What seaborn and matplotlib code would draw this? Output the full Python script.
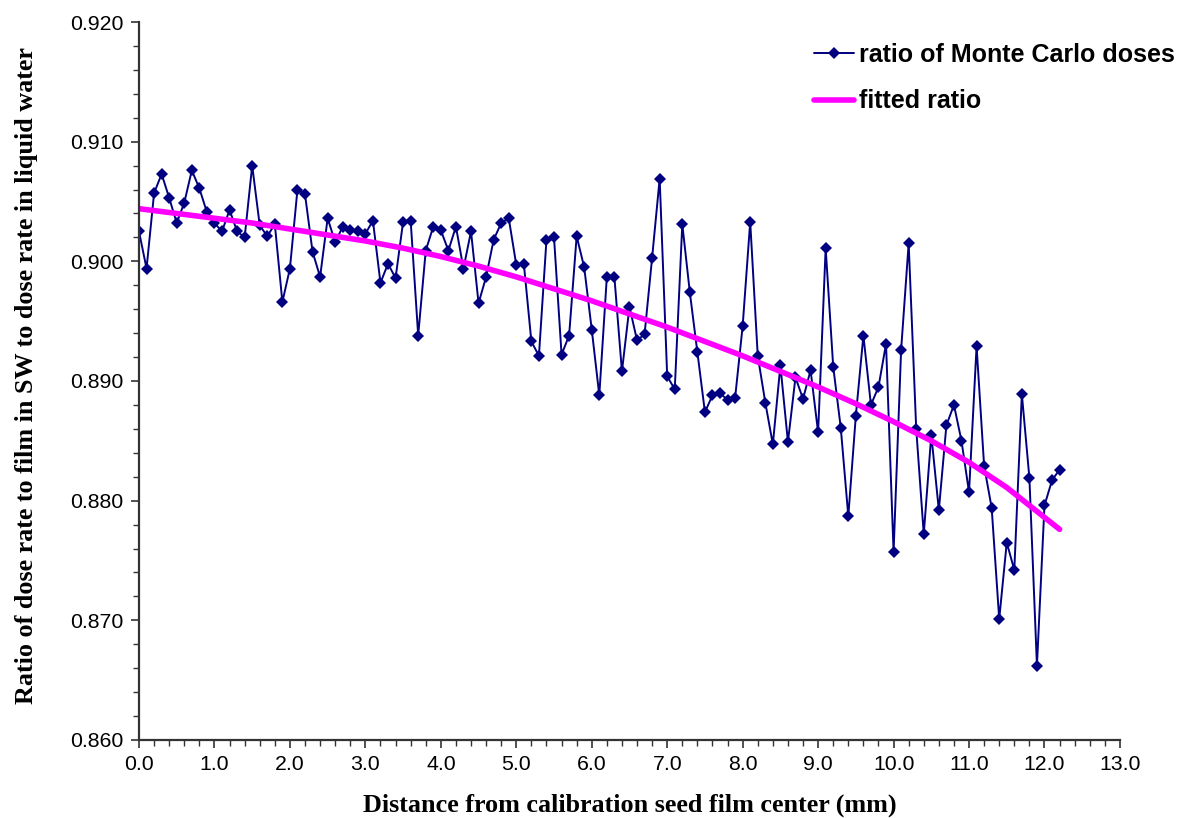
import matplotlib
matplotlib.use("Agg")
import matplotlib.pyplot as plt
from matplotlib.ticker import MultipleLocator, FormatStrFormatter
import seaborn as sns
import pandas as pd

# Distance from the calibration seed film centre (mm)
distance_mm = [
    0.0, 0.1, 0.2, 0.3, 0.4, 0.5, 0.6, 0.7, 0.8, 0.9,
    1.0, 1.1, 1.2, 1.3, 1.4, 1.5, 1.6, 1.7, 1.8, 1.9,
    2.0, 2.1, 2.2, 2.3, 2.4, 2.5, 2.6, 2.7, 2.8, 2.9,
    3.0, 3.1, 3.2, 3.3, 3.4, 3.5, 3.6, 3.7, 3.8, 3.9,
    4.0, 4.1, 4.2, 4.3, 4.4, 4.5, 4.6, 4.7, 4.8, 4.9,
    5.0, 5.1, 5.2, 5.3, 5.4, 5.5, 5.6, 5.7, 5.8, 5.9,
    6.0, 6.1, 6.2, 6.3, 6.4, 6.5, 6.6, 6.7, 6.8, 6.9,
    7.0, 7.1, 7.2, 7.3, 7.4, 7.5, 7.6, 7.7, 7.8, 7.9,
    8.0, 8.1, 8.2, 8.3, 8.4, 8.5, 8.6, 8.7, 8.8, 8.9,
    9.0, 9.1, 9.2, 9.3, 9.4, 9.5, 9.6, 9.7, 9.8, 9.9,
    10.0, 10.1, 10.2, 10.3, 10.4, 10.5, 10.6, 10.7, 10.8, 10.9,
    11.0, 11.1, 11.2, 11.3, 11.4, 11.5, 11.6, 11.7, 11.8, 11.9,
    12.0, 12.1, 12.2,
]

# Ratio of Monte Carlo dose rates (film in SW / liquid water)
mc_ratio = [
    0.9025, 0.8994, 0.9057, 0.9073, 0.9053, 0.9032, 0.9049, 0.9076, 0.9061, 0.9041,
    0.9032, 0.9025, 0.9043, 0.9025, 0.9020, 0.9080, 0.9030, 0.9021, 0.9031, 0.8966,
    0.8994, 0.9060, 0.9056, 0.9008, 0.8987, 0.9036, 0.9016, 0.9029, 0.9026, 0.9025,
    0.9023, 0.9034, 0.8982, 0.8998, 0.8986, 0.9033, 0.9034, 0.8938, 0.9009, 0.9029,
    0.9026, 0.9009, 0.9029, 0.8994, 0.9025, 0.8965, 0.8987, 0.9018, 0.9032, 0.9036,
    0.8997, 0.8998, 0.8933, 0.8921, 0.9018, 0.9020, 0.8922, 0.8938, 0.9021, 0.8995,
    0.8943, 0.8888, 0.8987, 0.8987, 0.8908, 0.8962, 0.8934, 0.8939, 0.9003, 0.9069,
    0.8904, 0.8893, 0.9031, 0.8974, 0.8924, 0.8874, 0.8888, 0.8890, 0.8884, 0.8886,
    0.8946, 0.9033, 0.8921, 0.8882, 0.8847, 0.8913, 0.8849, 0.8903, 0.8885, 0.8909,
    0.8857, 0.9011, 0.8912, 0.8861, 0.8787, 0.8871, 0.8938, 0.8880, 0.8895, 0.8931,
    0.8757, 0.8926, 0.9015, 0.8860, 0.8772, 0.8855, 0.8792, 0.8863, 0.8880, 0.8850,
    0.8807, 0.8929, 0.8829, 0.8794, 0.8701, 0.8765, 0.8742, 0.8889, 0.8819, 0.8662,
    0.8796, 0.8817, 0.8826,
]

# Fitted ratio curve
fit_distance_mm = [
    0.0, 0.5, 1.0, 1.5, 2.0, 2.5, 3.0, 3.5, 4.0, 4.5, 5.0, 5.5, 6.0,
    6.5, 7.0, 7.5, 8.0, 8.5, 9.0, 9.5, 10.0, 10.5, 11.0, 11.5, 12.0, 12.2,
]
fit_ratio = [
    0.9044, 0.9040, 0.9036, 0.9032, 0.9027, 0.9022, 0.9017, 0.9011, 0.9004,
    0.8996, 0.8987, 0.8977, 0.8967, 0.8956, 0.8945, 0.8933, 0.8921, 0.8908,
    0.8895, 0.8881, 0.8866, 0.8850, 0.8832, 0.8811, 0.8786, 0.8776,
]

mc_label = "ratio of Monte Carlo doses"
fit_label = "fitted ratio"
x_title = "Distance from calibration seed film center (mm)"
y_title = "Ratio of dose rate to film in SW to dose rate in liquid water"

sns.set_style("ticks")
plt.rcParams["font.family"] = ["Liberation Sans", "DejaVu Sans"]
plt.rcParams["text.color"] = "black"
plt.rcParams["axes.labelcolor"] = "black"
plt.rcParams["xtick.color"] = "black"
plt.rcParams["ytick.color"] = "black"

mc_df = pd.DataFrame({"distance": distance_mm, "ratio": mc_ratio})
fit_df = pd.DataFrame({"distance": fit_distance_mm, "ratio": fit_ratio})

fig = plt.figure(figsize=(11.84, 8.18), dpi=100)
ax = fig.add_axes([0.1174, 0.0954, 0.8285, 0.8777])

sns.lineplot(data=mc_df, x="distance", y="ratio", ax=ax, color="#000080",
             linewidth=1.4, marker="D", markersize=6.5, markeredgewidth=0,
             label=mc_label, sort=False, errorbar=None)
sns.lineplot(data=fit_df, x="distance", y="ratio", ax=ax, color="#FF00FF",
             linewidth=4, label=fit_label, sort=False, errorbar=None)

ax.set_xlim(0, 13)
ax.set_ylim(0.860, 0.920)
ax.xaxis.set_major_locator(MultipleLocator(1.0))
ax.xaxis.set_minor_locator(MultipleLocator(0.2))
ax.yaxis.set_major_locator(MultipleLocator(0.010))
ax.yaxis.set_minor_locator(MultipleLocator(0.002))
ax.xaxis.set_major_formatter(FormatStrFormatter("%.1f"))
ax.yaxis.set_major_formatter(FormatStrFormatter("%.3f"))

ax.tick_params(which="major", direction="out", length=6, width=1.2,
               labelsize=15.3, color="#333333", labelcolor="black", pad=5)
ax.tick_params(which="minor", direction="out", length=4, width=1.0,
               color="#333333")
for side in ("top", "right"):
    ax.spines[side].set_visible(False)
for side in ("left", "bottom"):
    ax.spines[side].set_linewidth(1.6)
    ax.spines[side].set_color("#333333")

title_font = dict(family=["Liberation Serif", "DejaVu Serif"],
                  weight="bold", size=18.8, color="black")
ax.set_xlabel(x_title, **title_font)
ax.set_ylabel(y_title, **title_font)
ax.xaxis.set_label_coords(0.5, -0.074)
ax.yaxis.set_label_coords(-0.103, 0.508)

leg = ax.legend(loc="upper right", bbox_to_anchor=(1.066, 0.985), frameon=False,
                prop=dict(family=["Liberation Sans", "DejaVu Sans"],
                          weight="bold", size=18),
                handlelength=1.6, handletextpad=0.2, labelspacing=0.9,
                borderaxespad=0)
for txt in leg.get_texts():
    txt.set_color("black")

fig.savefig("out.png", dpi=100, facecolor="white")
